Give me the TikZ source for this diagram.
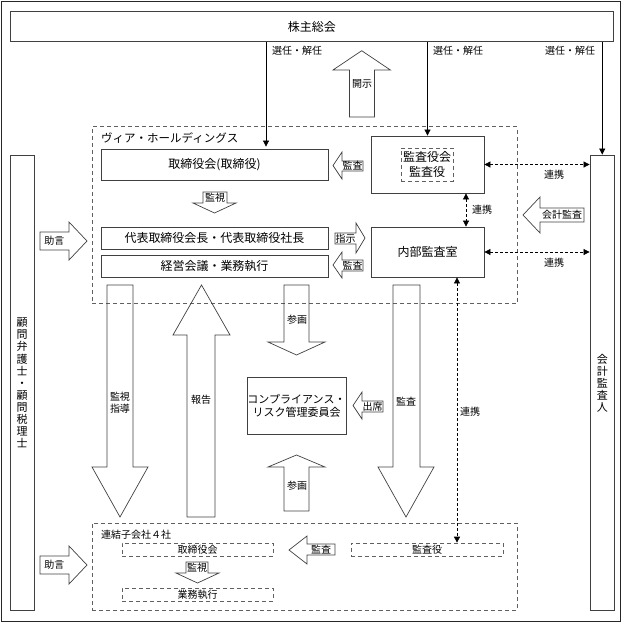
\documentclass[tikz,border=0pt]{standalone}
\usepackage{fontspec}
\setmainfont{Noto Sans CJK JP}
\usetikzlibrary{arrows.meta}
\definecolor{ln}{HTML}{404040}
\definecolor{dl}{HTML}{606060}
\newcommand{\varr}[7]{\draw[blk] (#1,#3) -- (#2,#3) -- (#2,#4) -- (#6,#4) -- ({(#5+#6)/2},#7) -- (#5,#4) -- (#1,#4) -- cycle;}
\newcommand{\harr}[7]{\draw[blk] (#3,#1) -- (#4,#1) -- (#4,#5) -- (#7,{(#5+#6)/2}) -- (#4,#6) -- (#4,#2) -- (#3,#2) -- cycle;}
\begin{document}
\begin{tikzpicture}[x=1pt,y=-1pt,
  box/.style={draw=ln,line width=0.8pt,inner sep=0pt,font=\fontsize{12}{14}\selectfont},
  dbox/.style={draw=dl,line width=0.7pt,dash pattern=on 4pt off 3pt,inner sep=0pt},
  blk/.style={draw=ln,line width=0.7pt},
  lbl/.style={inner sep=0pt,font=\fontsize{10}{12}\selectfont},
  conn/.style={draw=black,line width=0.7pt,-{Triangle[length=6pt,width=6pt]}},
  dconn/.style={draw=black,line width=0.7pt,dash pattern=on 3pt off 2pt,{Triangle[length=6pt,width=6pt]}-{Triangle[length=6pt,width=6pt]}},
  vtext/.style={inner sep=0pt,align=center,font=\fontsize{11}{12.1}\selectfont}]
\useasboundingbox (0,0) rectangle (625,622);
\draw[black!85,line width=1pt] (1,1) rectangle (620,621);

% main boxes
\node[box,minimum width=603.5pt,minimum height=30pt] (kabu) at (311.75,26.7) {株主総会};
\node[dbox,minimum width=425pt,minimum height=176.8pt] (hold) at (304.5,215.1) {};
\node[anchor=west,inner sep=0pt,font=\fontsize{11.5}{13}\selectfont] (holdlbl) at (101,138) {ヴィア・ホールディングス};
\node[box,minimum width=227pt,minimum height=31pt] (tori) at (214.5,164.5) {取締役会(取締役)};
\node[box,minimum width=227pt,minimum height=22pt] (daihyo) at (214.5,238) {代表取締役会長・代表取締役社長};
\node[box,minimum width=227pt,minimum height=22pt] (keiei) at (214.5,266) {経営会議・業務執行};
\node[box,minimum width=113pt,minimum height=57pt] (kansa) at (427.5,164.5) {};
\node[dbox,minimum width=52pt,minimum height=33pt,align=center,font=\fontsize{12}{15}\selectfont] (kansain) at (427,164.5) {監査役会\\監査役};
\node[box,minimum width=113pt,minimum height=50pt] (naibu) at (427.5,252) {内部監査室};
\node[box,minimum width=24.5pt,minimum height=455pt] (kaikei) at (602.25,382.5) {};
\node[vtext] (kaikeitxt) at (602.25,383) {会\\計\\監\\査\\人};
\node[box,minimum width=24pt,minimum height=455pt] (komon) at (22,382.5) {};
\node[vtext] (komontxt) at (22,383) {顧\\問\\弁\\護\\士\\・\\顧\\問\\税\\理\\士};
\node[box,minimum width=99pt,minimum height=57pt,align=center,font=\fontsize{11}{13}\selectfont] (comp) at (296.5,405.5) {コンプライアンス・\\リスク管理委員会};

% subsidiaries
\node[dbox,minimum width=425pt,minimum height=87pt] (renketsu) at (304.5,566.5) {};
\node[anchor=west,lbl] (renlbl) at (101,535) {連結子会社４社};
\node[dbox,minimum width=151pt,minimum height=13pt,font=\fontsize{10}{12}\selectfont] (subtori) at (197.5,549.5) {取締役会};
\node[dbox,minimum width=151pt,minimum height=13pt,font=\fontsize{10}{12}\selectfont] (subgyomu) at (197.5,594.5) {業務執行};
\node[dbox,minimum width=152pt,minimum height=13pt,font=\fontsize{10}{12}\selectfont] (subkansa) at (427,549.5) {監査役};

% block arrows
\varr{349.4}{374.5}{117}{70}{333}{390.4}{50.7}
\node[lbl] (kaiji) at (362,84) {開示};
\harr{161}{171}{363}{342}{152}{179}{333}
\node[lbl] (kansa1) at (352.5,166) {監査};
\varr{203}{227}{192}{203}{193}{236}{213}
\node[lbl] (kanshi1) at (215,197.5) {監視};
\harr{233}{244}{335}{356}{223}{253}{365}
\node[lbl] (shiji) at (345.5,238.5) {指示};
\harr{260}{271}{363}{342}{252}{278}{333}
\node[lbl] (kansa2) at (352.5,265.5) {監査};
\harr{208}{222}{584}{540}{197}{233}{523}
\node[lbl] (kaikeikansa) at (562,215) {会計監査};
\harr{232}{250}{40}{69}{222}{260}{87}
\node[lbl] (jogen1) at (54.5,241) {助言};
\harr{556}{574}{40}{69}{546}{584}{87}
\node[lbl] (jogen2) at (54.5,565) {助言};
\varr{107}{133}{285}{467}{92}{148}{517}
\node[lbl,align=center] (kanshishido) at (120,402.5) {監視\\指導};
\varr{187}{215}{517}{335}{173}{230}{285}
\node[lbl] (hokoku) at (201,400) {報告};
\varr{284}{309}{285}{342}{268}{325}{355}
\node[lbl] (sankaku1) at (297,320) {参画};
\varr{393}{420}{285}{467}{378}{434}{517}
\node[lbl] (kansabig) at (406,402) {監査};
\varr{284}{309}{511}{467}{268}{325}{455}
\node[lbl] (sankaku2) at (297,486) {参画};
\harr{401}{412}{383}{362}{392}{419}{353}
\node[lbl] (shusseki) at (372.5,406.5) {出席};
\harr{544}{555}{335}{307}{536}{564}{289}
\node[lbl] (kansa3) at (321,549.5) {監査};
\varr{186}{208}{562}{573}{176}{219}{583}
\node[lbl] (kanshi3) at (197,567.5) {監視};

% connectors
\coordinate (cx1) at (266,0);
\coordinate (cx2) at (427.5,0);
\coordinate (cx3) at (602.25,0);
\coordinate (cx4) at (466,0);
\coordinate (cx5) at (457,0);
\draw[conn] (kabu.south -| cx1) -- ([yshift=2pt]tori.north -| cx1);
\draw[conn] (kabu.south -| cx2) -- (kansa.north);
\draw[conn] (kabu.south -| cx3) -- (kaikei.north);
\node[lbl] (sen1) at (297,51) {選任・解任};
\node[lbl] (sen2) at (458,51) {選任・解任};
\node[lbl] (sen3) at (570,51) {選任・解任};

\draw[dconn] (kansa.east) -- (kaikei.west |- kansa.east);
\draw[dconn] (naibu.east) -- (kaikei.west |- naibu.east);
\draw[dconn] (kansa.south -| cx4) -- (naibu.north -| cx4);
\draw[dconn] (naibu.south -| cx5) -- (subkansa.north -| cx5);
\node[lbl] (ren1) at (554,175) {連携};
\node[lbl] (ren2) at (554,263) {連携};
\node[lbl] (ren3) at (482,210) {連携};
\node[lbl] (ren4) at (470,412) {連携};
\end{tikzpicture}
\end{document}
